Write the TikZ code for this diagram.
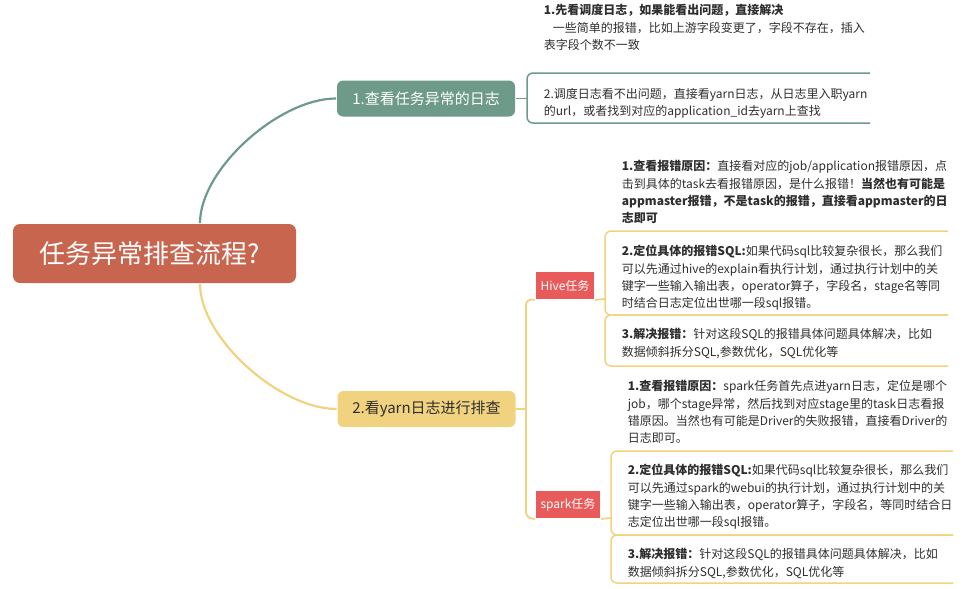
\documentclass[tikz,border=0pt]{standalone}
\usepackage{fontspec}
\setmainfont{Noto Sans CJK SC}
\usepackage{xcolor}
\usepackage{tikz}
\usetikzlibrary{positioning}

\definecolor{rootred}{HTML}{C8654F}
\definecolor{sagegreen}{HTML}{6E9A8A}
\definecolor{sandyellow}{HTML}{F0D27F}
\definecolor{tagred}{HTML}{E95B5B}
\definecolor{inkgray}{HTML}{2E2E2E}

\begin{document}
\begin{tikzpicture}[x=1pt,y=-1pt,line width=1.8pt]
  \tikzstyle{topic}=[rounded corners=6pt,minimum width=178pt,minimum height=36pt,inner sep=0pt,font=\fontsize{15}{18}\selectfont]
  \tikzstyle{tag}=[fill=tagred,text=white,minimum height=27pt,inner sep=0pt,font=\fontsize{12}{14}\selectfont]
  \tikzstyle{note}=[anchor=north west,align=left,inner sep=0pt,text=inkgray,font=\fontsize{12}{17.3}\selectfont]
  \useasboundingbox (0,0) rectangle (980,589);

  % central topic and the two main branches
  \node[fill=rootred,text=white,rounded corners=7pt,minimum width=283pt,minimum height=59pt,inner sep=0pt,font=\fontsize{26}{30}\selectfont] (root) at (154.5,253.5) {任务异常排查流程?\hspace*{10pt}};
  \node[topic,fill=sagegreen,text=white] (log) at (426,98.5) {1.查看任务异常的日志};
  \node[topic,fill=sandyellow,text=inkgray] (yarn) at (426.5,409) {2.看yarn日志进行排查};
  \draw[sagegreen,line width=2.2pt] ([xshift=45.5pt]root.north) .. controls +(0,-54) and +(-57,0) .. (log.west);
  \draw[sandyellow,line width=2.2pt] ([xshift=45.5pt]root.south) .. controls +(0,54) and +(-57,0) .. (yarn.west);

  % branch 1: scheduler log
  \coordinate (logjoin) at (527,98.5);
  \draw[sagegreen] (log.east) -- (logjoin);
  \draw[sagegreen,line width=1.5pt,rounded corners=6pt] (870,73) -- (527,73) -- (527,123) -- (870,123);
  \node[note] (logfirst) at (543,3.6) {\textbf{1.先看调度日志，如果能看出问题，直接解决}\\
    \hspace*{9pt}一些简单的报错，比如上游字段变更了，字段不存在，插入\\
    表字段个数不一致};
  \node[note] (logsecond) at (543,87) {2.调度日志看不出问题，直接看yarn日志，从日志里入职yarn\\
    的url，或者找到对应的application\_id去yarn上查找};

  % branch 2: hive and spark tasks
  \node[tag,minimum width=58pt] (hive) at (565,285.5) {Hive任务};
  \node[tag,minimum width=64pt] (spark) at (568,504.5) {spark任务};
  \coordinate (yarnjoin) at (526,409);
  \coordinate (hivejoin) at (605,299);
  \coordinate (sparkjoin) at (611,518);
  \draw[sandyellow] (yarn.east) -- (yarnjoin);
  \draw[sandyellow,rounded corners=6pt] (hive.south west) -- (526,299) -- (526,518) -- (spark.south west);
  \draw[sandyellow] (hive.south east) -- (hivejoin);
  \draw[sandyellow] (spark.south east) -- (sparkjoin);
  \foreach \l/\t/\b/\r in {605/231/315/948,605/315/366/948,611/451/535/953,611/535/583/953}
    \draw[sandyellow,line width=1.5pt,rounded corners=6pt] (\r,\t) -- (\l,\t) -- (\l,\b) -- (\r,\b);

  \node[note] (hiveone) at (621,159.6) {\textbf{1.查看报错原因：}直接看对应的job/application报错原因，点\\
    击到具体的task去看报错原因，是什么报错！\textbf{当然也有可能是}\\
    \textbf{appmaster报错，不是task的报错，直接看appmaster的日}\\
    \textbf{志即可}};
  \node[note] (hivetwo) at (621,244.6) {\textbf{2.定位具体的报错SQL:}如果代码sql比较复杂很长，那么我们\\
    可以先通过hive的explain看执行计划，通过执行计划中的关\\
    键字一些输入输出表，operator算子，字段名，stage名等同\\
    时结合日志定位出世哪一段sql报错。};
  \node[note] (hivethree) at (621,327.6) {\textbf{3.解决报错：}针对这段SQL的报错具体问题具体解决，比如\\
    数据倾斜拆分SQL,参数优化，SQL优化等};

  \node[note] (sparkone) at (627,379.6) {\textbf{1.查看报错原因：}spark任务首先点进yarn日志，定位是哪个\\
    job，哪个stage异常，然后找到对应stage里的task日志看报\\
    错原因。当然也有可能是Driver的失败报错，直接看Driver的\\
    日志即可。};
  \node[note] (sparktwo) at (627,463.6) {\textbf{2.定位具体的报错SQL:}如果代码sql比较复杂很长，那么我们\\
    可以先通过spark的webui的执行计划，通过执行计划中的关\\
    键字一些输入输出表，operator算子，字段名，等同时结合日\\
    志定位出世哪一段sql报错。};
  \node[note] (sparkthree) at (627,547.6) {\textbf{3.解决报错：}针对这段SQL的报错具体问题具体解决，比如\\
    数据倾斜拆分SQL,参数优化，SQL优化等};
\end{tikzpicture}
\end{document}
